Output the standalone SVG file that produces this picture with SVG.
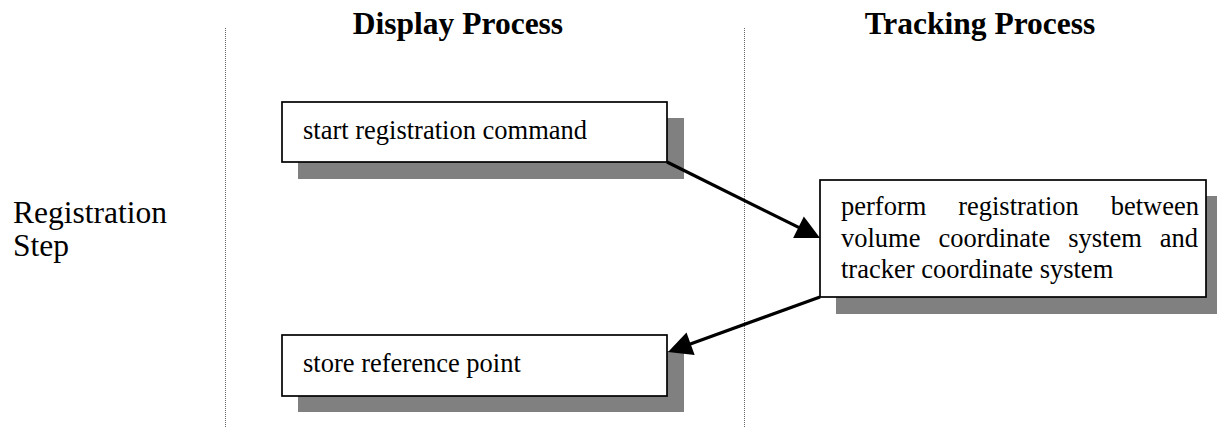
<svg xmlns="http://www.w3.org/2000/svg" width="1217" height="427" viewBox="0 0 1217 427">
  <style>
    .lane { stroke: #666; stroke-width: 1; stroke-dasharray: 1 1; fill: none; }
    .head { font-family: "Liberation Serif", "Times New Roman", serif; font-size: 31.5px; font-weight: bold; fill: #000; text-anchor: middle; }
    .row { font-family: "Liberation Serif", "Times New Roman", serif; font-size: 31.5px; fill: #000; }
    .box { fill: #fff; stroke: #000; stroke-width: 1.7; }
    .shadow { fill: #808080; }
    .label { font-family: "Liberation Serif", "Times New Roman", serif; font-size: 26.5px; fill: #000; }
    .flow { stroke: #000; stroke-width: 3.2; fill: none; }
  </style>
  <defs>
    <marker id="arrow" markerUnits="userSpaceOnUse" markerWidth="24" markerHeight="24" refX="12" refY="12" orient="auto" overflow="visible">
      <path d="M0,0 L24,12 L0,24 Z" fill="#000"/>
    </marker>
  </defs>

  <rect width="1217" height="427" fill="#fff"/>

  <!-- swimlane separators -->
  <g id="lanes">
    <line class="lane" x1="225.5" y1="28" x2="225.5" y2="427"/>
    <line class="lane" x1="744.5" y1="28" x2="744.5" y2="427"/>
  </g>

  <!-- column and row headings -->
  <g id="headings">
    <text class="head" x="458" y="34">Display Process</text>
    <text class="head" x="980" y="34">Tracking Process</text>
    <text class="row" x="13" y="223">Registration</text>
    <text class="row" x="13" y="256">Step</text>
  </g>

  <g id="start-registration">
    <rect class="shadow" x="298" y="118" width="386" height="61"/>
    <rect class="box" x="282" y="102" width="385" height="60"/>
    <text class="label" x="303" y="139">start registration command</text>
  </g>

  <g id="perform-registration">
    <rect class="shadow" x="836" y="196" width="386" height="118"/>
    <rect class="box" x="820" y="180" width="386" height="117"/>
    <text class="label">
      <tspan x="841" y="215" word-spacing="25.2">perform registration between</tspan>
      <tspan x="841" y="247" word-spacing="11.3">volume coordinate system and</tspan>
      <tspan x="841" y="278">tracker coordinate system</tspan>
    </text>
  </g>

  <g id="store-reference">
    <rect class="shadow" x="298" y="351" width="386" height="61"/>
    <rect class="box" x="282" y="335" width="385" height="61"/>
    <text class="label" x="303" y="372">store reference point</text>
  </g>

  <g id="connectors">
    <path class="flow" d="M667,162 L809.25,232.66" marker-end="url(#arrow)"/>
    <path class="flow" d="M820,297 L679.3,347.9" marker-end="url(#arrow)"/>
  </g>
</svg>
